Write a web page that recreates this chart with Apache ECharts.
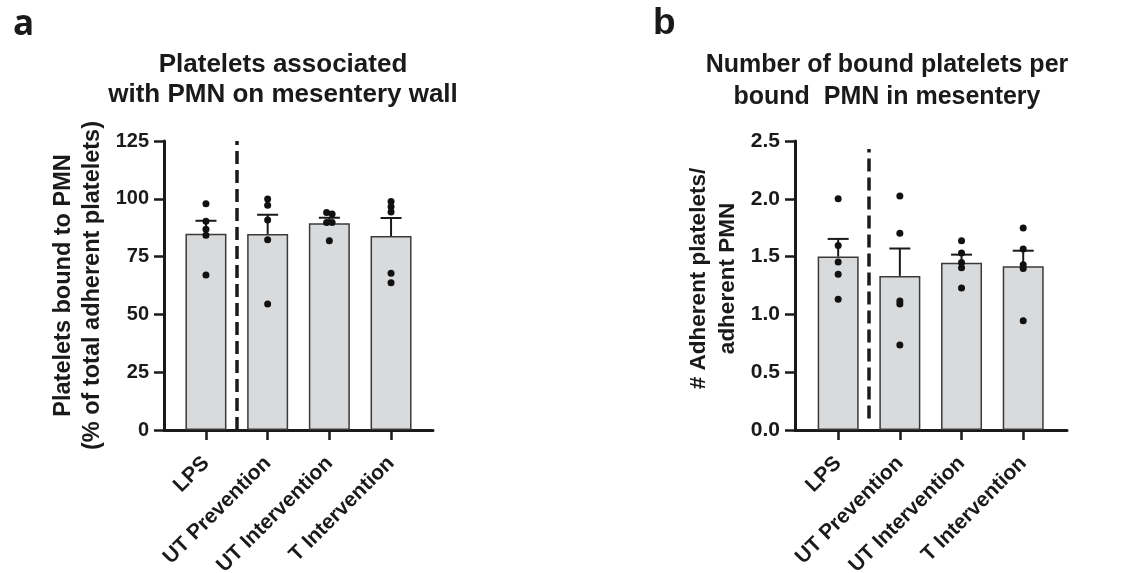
<!DOCTYPE html>
<html>
<head>
<meta charset="utf-8">
<script src="https://cdn.jsdelivr.net/npm/echarts@6/dist/echarts.min.js"></script>
<style>html,body{margin:0;padding:0;background:#fff;}#c{width:1139px;height:573px;}</style>
</head>
<body>
<div id="c"></div>
<script>
// ---- data ----
const categories = ['LPS', 'UT Prevention', 'UT Intervention', 'T Intervention'];

const meanA = [84.9, 84.8, 89.4, 83.9];
const semA = [5.6, 8.3, 2.4, 7.8];
const pointsA = [
  [97.9, 90.3, 86.8, 84.2, 67.0],
  [99.9, 97.2, 90.8, 82.3, 54.5],
  [94.1, 93.4, 89.7, 89.7, 81.9],
  [98.8, 96.6, 94.3, 67.8, 63.7]
];
const yTicksA = { min: 0, max: 125, interval: 25 };

const meanB = [1.50, 1.333, 1.447, 1.416];
const semB = [0.153, 0.237, 0.070, 0.135];
const pointsB = [
  [2.00, 1.595, 1.453, 1.347, 1.130],
  [2.024, 1.701, 1.116, 1.090, 0.735],
  [1.638, 1.531, 1.450, 1.404, 1.228],
  [1.747, 1.566, 1.430, 1.396, 0.946]
];
const yTicksB = { min: 0, max: 2.5, interval: 0.5 };

// ---- layout ----
const FONT = 'Liberation Sans, Arial, Helvetica, sans-serif';
const gridA = { left: 164, top: 141, width: 269, height: 289, containLabel: false, outerBoundsMode: 'none' };
const gridB = { left: 795, top: 141, width: 272, height: 289, containLabel: false, outerBoundsMode: 'none' };
const xRangeA = [-0.68, 3.68];
const xRangeB = [-0.70, 3.71];

function jitter(points, grid, yr) {
  const ppu = grid.height / (yr.max - yr.min);
  const out = [];
  points.forEach((vals, ci) => {
    const sorted = vals.map((v, k) => ({ v, k })).sort((a, b) => b.v - a.v);
    const clusters = [];
    sorted.forEach(p => {
      const last = clusters[clusters.length - 1];
      if (last && Math.abs(last[last.length - 1].v - p.v) * ppu < 3) last.push(p);
      else clusters.push([p]);
    });
    clusters.forEach(cl => {
      const n = cl.length;
      cl.forEach((p, j) => {
        const dx = (j - (n - 1) / 2) * 5.5;
        out.push({ value: [ci, p.v], symbolOffset: [dx, 0] });
      });
    });
  });
  return out;
}

function errRender(params, api) {
  const x = api.value(0), m = api.value(1), t = api.value(2);
  const p0 = api.coord([x, m]);
  const p1 = api.coord([x, t]);
  const st = { stroke: '#1a1a1a', lineWidth: 2 };
  return {
    type: 'group',
    children: [
      { type: 'line', shape: { x1: p0[0], y1: p0[1], x2: p1[0], y2: p1[1] }, style: st },
      { type: 'line', shape: { x1: p1[0] - 10.5, y1: p1[1], x2: p1[0] + 10.5, y2: p1[1] }, style: st }
    ]
  };
}

function xAxisCfg(gi, range) {
  return {
    type: 'value', gridIndex: gi, min: range[0], max: range[1],
    splitLine: { show: false },
    axisLine: { show: true, onZero: false, lineStyle: { color: '#1a1a1a', width: 3 } },
    axisTick: { show: true, customValues: [0, 1, 2, 3], length: 10, lineStyle: { color: '#1a1a1a', width: 2.5 } },
    axisLabel: {
      customValues: [0, 1, 2, 3], rotate: 45, margin: 30,
      formatter: v => categories[Math.round(v)] || '',
      fontFamily: FONT, fontWeight: 'bold', fontSize: 21, color: '#1a1a1a'
    }
  };
}

function yAxisCfg(gi, yr, name, gap, dec, nameSize, labelSize, namePad) {
  return {
    type: 'value', gridIndex: gi, min: yr.min, max: yr.max, interval: yr.interval,
    name: name, nameLocation: 'middle', nameRotate: 90, nameGap: gap,
    nameTextStyle: { fontFamily: FONT, fontWeight: 'bold', fontSize: nameSize, color: '#1a1a1a', lineHeight: 29, align: 'center', padding: namePad },
    splitLine: { show: false },
    axisLine: { show: true, onZero: false, lineStyle: { color: '#1a1a1a', width: 3 } },
    axisTick: { show: true, length: 10, lineStyle: { color: '#1a1a1a', width: 2.5 } },
    axisLabel: {
      margin: 15, fontFamily: FONT, fontWeight: 'bold', fontSize: labelSize, color: '#1a1a1a',
      formatter: v => dec ? v.toFixed(dec) : String(v)
    }
  };
}

function panelSeries(gi, means, sems, pts, grid, yr, dash) {
  return [
    {
      type: 'bar', xAxisIndex: gi, yAxisIndex: gi, barWidth: 41,
      data: means.map((m, i) => [i, m]),
      itemStyle: { color: '#d9dadc', borderColor: '#3a3a3a', borderWidth: 1.5 },
      markLine: {
        silent: true, symbol: ['none', 'none'], label: { show: false },
        lineStyle: { color: '#1a1a1a', width: 3.5, type: [13, 6] },
        data: [[{ coord: [0.5, dash[0]] }, { coord: [0.5, dash[1]] }]]
      }
    },
    {
      type: 'custom', xAxisIndex: gi, yAxisIndex: gi, renderItem: errRender, z: 3,
      data: means.map((m, i) => [i, m, m + sems[i]])
    },
    {
      type: 'scatter', xAxisIndex: gi, yAxisIndex: gi, symbolSize: 7, z: 4,
      itemStyle: { color: '#111', opacity: 1 },
      data: jitter(pts, grid, yr)
    }
  ];
}

const chart = echarts.init(document.getElementById('c'));
chart.setOption({
  animation: false,
  backgroundColor: '#fff',
  title: [
    { text: 'a', left: 8, top: 3, textStyle: { fontFamily: 'Open Sans, sans-serif', fontWeight: 700, fontSize: 35, color: '#1a1a1a' } },
    { text: 'b', left: 648, top: 0, textStyle: { fontFamily: FONT, fontWeight: 'bold', fontSize: 37, color: '#1a1a1a' } },
    { text: 'Platelets associated\nwith PMN on mesentery wall', left: 278, top: 45, textAlign: 'center',
      textStyle: { fontFamily: FONT, fontWeight: 'bold', fontSize: 26, lineHeight: 30, color: '#1a1a1a', align: 'center' } },
    { text: 'Number of bound platelets per\nbound  PMN in mesentery', left: 882, top: 44, textAlign: 'center',
      textStyle: { fontFamily: FONT, fontWeight: 'bold', fontSize: 25, lineHeight: 32, color: '#1a1a1a', align: 'center' } }
  ],
  grid: [gridA, gridB],
  xAxis: [xAxisCfg(0, xRangeA), xAxisCfg(1, xRangeB)],
  yAxis: [
    yAxisCfg(0, yTicksA, 'Platelets bound to PMN\n(% of total adherent platelets)', 57, 0, 23.5, 20, [0, 0, 0, 0]),
    yAxisCfg(1, yTicksB, '# Adherent platelets/\nadherent PMN', 53, 1, 22.5, 21, [0, 0, 0, 14])
  ],
  series: [].concat(
    panelSeries(0, meanA, semA, pointsA, gridA, yTicksA, [0, 125]),
    panelSeries(1, meanB, semB, pointsB, gridB, yTicksB, [0.1, 2.43])
  )
});
</script>
</body>
</html>
